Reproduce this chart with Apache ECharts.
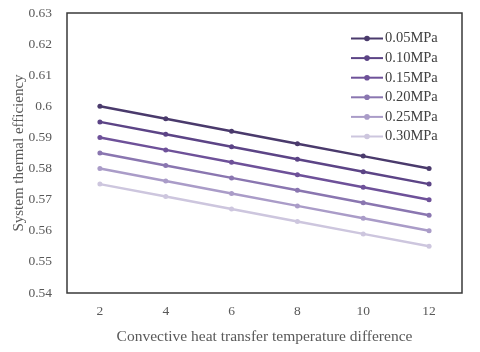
<!DOCTYPE html>
<html>
<head>
<meta charset="utf-8">
<script src="https://cdn.jsdelivr.net/npm/echarts@6/dist/echarts.min.js"></script>
<style>
  html, body { margin: 0; padding: 0; background: #fff; }
  #chart { width: 480px; height: 352px; }
</style>
</head>
<body>
<div id="chart"></div>
<script>
// temperature difference categories
const tempDiff = ['2', '4', '6', '8', '10', '12'];
const pressures = ['0.05MPa', '0.10MPa', '0.15MPa', '0.20MPa', '0.25MPa', '0.30MPa'];

// efficiency per pressure
const eff005 = [0.600, 0.596, 0.592, 0.588, 0.584, 0.580];
const eff010 = [0.595, 0.591, 0.587, 0.583, 0.579, 0.575];
const eff015 = [0.590, 0.586, 0.582, 0.578, 0.574, 0.570];
const eff020 = [0.585, 0.581, 0.577, 0.573, 0.569, 0.565];
const eff025 = [0.580, 0.576, 0.572, 0.568, 0.564, 0.560];
const eff030 = [0.575, 0.571, 0.567, 0.563, 0.559, 0.555];

const colors = ['#4a3a6c', '#5c4486', '#6e5199', '#8a76b0', '#aa9cc8', '#cdc6de'];
const allData = [eff005, eff010, eff015, eff020, eff025, eff030];

const font = 'Liberation Serif';

const chart = echarts.init(document.getElementById('chart'));
chart.setOption({
    animation: false,
    textStyle: { fontFamily: font },
    grid: {
        left: 67, right: 18, top: 13, bottom: 59,
        outerBoundsMode: 'none',
        show: true,
        borderColor: '#3a3a3a',
        borderWidth: 1.5
    },
    legend: {
        orient: 'vertical',
        left: 345,
        top: 26,
        itemWidth: 32,
        itemHeight: 7,
        itemGap: 4.6,
        textStyle: { fontFamily: font, fontSize: 14.5, color: '#404040', padding: [0, 0, 0, -3] },
        data: pressures
    },
    xAxis: {
        type: 'category',
        data: tempDiff,
        boundaryGap: true,
        axisLine: { show: false },
        axisTick: { show: false },
        axisLabel: { fontFamily: font, fontSize: 13.5, color: '#595959', margin: 11 },
        name: 'Convective heat transfer temperature difference',
        nameLocation: 'middle',
        nameGap: 36,
        nameMoveOverlap: false,
        nameTextStyle: { fontFamily: font, fontSize: 15.5, color: '#595959' }
    },
    yAxis: {
        type: 'value',
        min: 0.54,
        max: 0.63,
        interval: 0.01,
        axisLine: { show: false },
        axisTick: { show: false },
        splitLine: { show: false },
        axisLabel: { fontFamily: font, fontSize: 13.5, color: '#595959', margin: 15 },
        name: 'System thermal efficiency',
        nameLocation: 'middle',
        nameGap: 40,
        nameMoveOverlap: false,
        nameTextStyle: { fontFamily: font, fontSize: 15, color: '#595959' }
    },
    series: pressures.map((p, i) => ({
        name: p,
        type: 'line',
        data: allData[i],
        color: colors[i],
        symbol: 'circle',
        symbolSize: 5,
        lineStyle: { width: 2.5 }
    }))
});
</script>
</body>
</html>
